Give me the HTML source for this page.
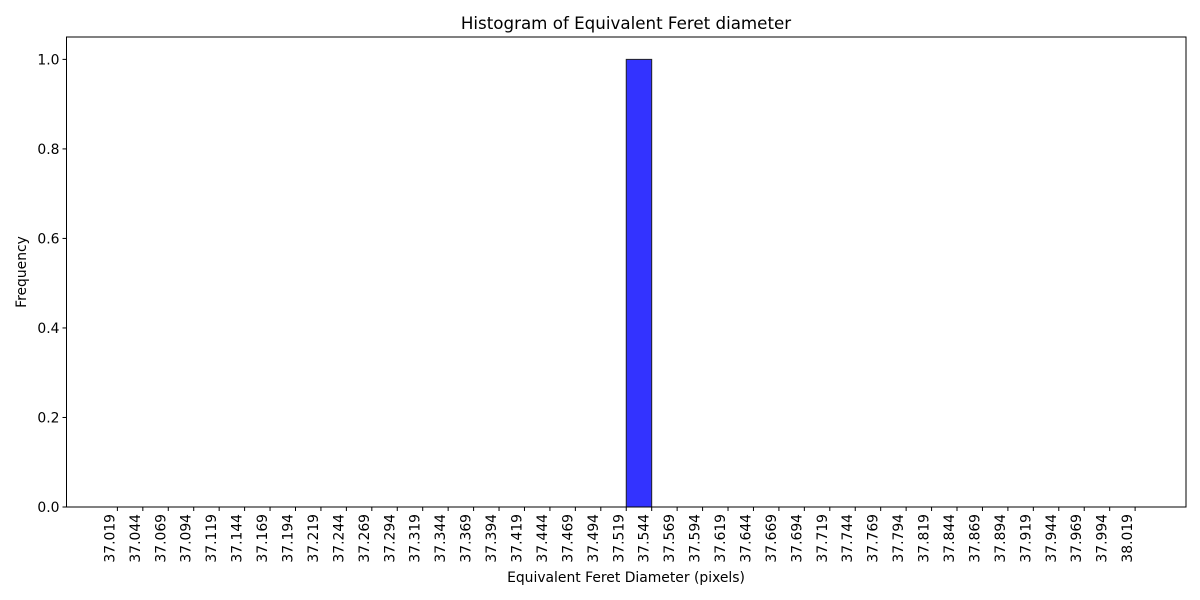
<!DOCTYPE html>
<html><head><meta charset="utf-8"><style>
html,body{margin:0;padding:0;background:#fff;}
svg{display:block;font-family:"DejaVu Sans","Liberation Sans",sans-serif;}
</style></head><body>
<svg id="chart" width="1200" height="600">
<text x="626" y="29" font-size="16.7" text-anchor="middle">Histogram of Equivalent Feret diameter</text>
<g id="plot"></g>
<text x="626" y="582" font-size="13.9" text-anchor="middle">Equivalent Feret Diameter (pixels)</text>
<text transform="translate(26,272) rotate(-90)" font-size="13.9" text-anchor="middle">Frequency</text>
</svg>
<script>
const binEdgesStart = 37.019;
const binWidth = 0.025;
const binCounts = [0,0,0,0,0,0,0,0,0,0,0,0,0,0,0,0,0,0,0,0,1,0,0,0,0,0,0,0,0,0,0,0,0,0,0,0,0,0,0,0];
const yTicks = [0,0.2,0.4,0.6,0.8,1.0];
const yTickLabels = ["0.0","0.2","0.4","0.6","0.8","1.0"];

const NS="http://www.w3.org/2000/svg";
const L=66.5,R=1186,T=37,B=507;
const xmin=36.969,xmax=38.069,ymax=1.05;
const xs=v=>L+(v-xmin)/(xmax-xmin)*(R-L);
const ys=v=>B-v/ymax*(B-T);
const g=document.getElementById('plot');
function mk(tag,attrs){const e=document.createElementNS(NS,tag);for(const k in attrs)e.setAttribute(k,attrs[k]);g.appendChild(e);return e;}

binCounts.forEach((c,i)=>{
  if(c<=0) return;
  const x0=xs(binEdgesStart+i*binWidth), x1=xs(binEdgesStart+(i+1)*binWidth);
  const r=mk('rect',{x:x0,y:ys(c),width:x1-x0,height:B-ys(c),fill:'#3333ff',stroke:'#222','stroke-width':1});
  
  
});

const frame=mk('rect',{x:L,y:T,width:R-L,height:B-T,fill:'none',stroke:'#000','stroke-width':1});



yTicks.forEach((v,i)=>{
  const y=ys(v);
  mk('line',{x1:L-4,x2:L,y1:y,y2:y,stroke:'#000'});
  const t=mk('text',{x:L-7,y:y+5,'font-size':13.9,'text-anchor':'end'});
  t.textContent=yTickLabels[i];
  
  
});

for(let i=0;i<=binCounts.length;i++){
  const v=binEdgesStart+i*binWidth;
  const x=xs(v);
  mk('line',{x1:x,x2:x,y1:B,y2:B+4,stroke:'#000'});
  const t=mk('text',{transform:`translate(${x-3},${B+7}) rotate(-90)`,'font-size':13.9,'text-anchor':'end'});
  t.textContent=v.toFixed(3);
  
  
}
</script>
</body></html>
